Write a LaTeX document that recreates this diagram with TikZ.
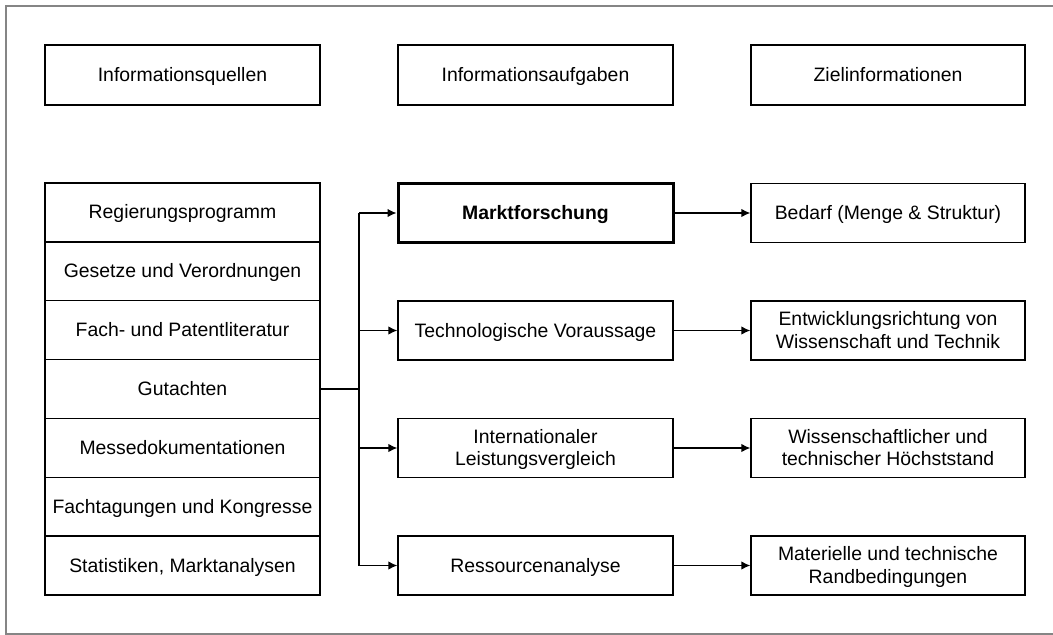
\documentclass[tikz,border=0pt]{standalone}
\usepackage{fontspec}
\setmainfont{Liberation Sans}
\usetikzlibrary{arrows.meta}
\definecolor{framegray}{HTML}{858585}
\begin{document}
\begin{tikzpicture}[x=1pt,y=-1pt,
  box/.style={draw, line width=1.3pt, minimum width=275pt, minimum height=59pt,
    inner sep=0pt, text depth=1pt, align=center, font=\fontsize{19.4}{22.6}\selectfont},
  srcbox/.style={box, minimum height=58.86pt},
  keybox/.style={box, line width=3pt, font=\fontsize{19.4}{22.6}\selectfont\bfseries},
  link/.style={line width=1.3pt, -{Latex[length=9pt,width=8.5pt]}},
]
\useasboundingbox (0,0) rectangle (1053,635);

% frame (open on the right)
\draw[framegray, line width=2pt] (1053,6) -- (6,6) -- (6,634) -- (1053,634);

% column headings
\node[box, minimum height=60pt] (h1) at (182.5,75) {Informationsquellen};
\node[box, minimum height=60pt] (h2) at (535.5,75) {Informationsaufgaben};
\node[box, minimum height=60pt, minimum width=274pt] (h3) at (888,75) {Zielinformationen};

% sources
\node[srcbox] (s1) at (182.5,212.4) {Regierungsprogramm};
\node[srcbox] (s2) at (182.5,271.3) {Gesetze und Verordnungen};
\node[srcbox] (s3) at (182.5,330.1) {Fach- und Patentliteratur};
\node[srcbox] (s4) at (182.5,389.0) {Gutachten};
\node[srcbox] (s5) at (182.5,447.9) {Messedokumentationen};
\node[srcbox] (s6) at (182.5,506.7) {Fachtagungen und Kongresse};
\node[srcbox] (s7) at (182.5,565.6) {Statistiken, Marktanalysen};

% tasks
\node[keybox] (m1) at (535.5,213) {Marktforschung};
\node[box] (m2) at (535.5,330.5) {Technologische Voraussage};
\node[box] (m3) at (535.5,448) {Internationaler\\Leistungsvergleich};
\node[box] (m4) at (535.5,565.5) {Ressourcenanalyse};

% target information
\node[box, minimum width=274pt] (z1) at (888,213) {Bedarf (Menge \& Struktur)};
\node[box, minimum width=274pt] (z2) at (888,330.5) {Entwicklungsrichtung von\\Wissenschaft und Technik};
\node[box, minimum width=274pt] (z3) at (888,448) {Wissenschaftlicher und\\technischer Höchststand};
\node[box, minimum width=274pt] (z4) at (888,565.5) {Materielle und technische\\Randbedingungen};

% distribution bus
\coordinate (hub) at (359,389);
\draw[line width=2pt] (s4.east) -- (hub);
\draw[line width=1.3pt] (hub |- m1) -- (hub |- m4);
\foreach \i in {1,2,3,4}{
  \draw[link] (hub |- m\i) -- (m\i.west);
  \draw[link] (m\i.east) -- (z\i.west);
}
\end{tikzpicture}
\end{document}
